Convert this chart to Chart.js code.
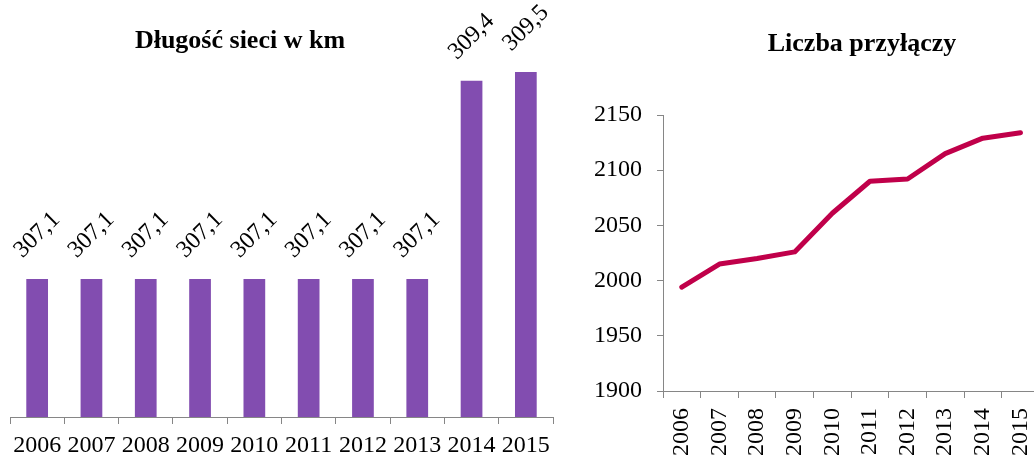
<!DOCTYPE html>
<html>
<head>
<meta charset="utf-8">
<script src="https://cdn.jsdelivr.net/npm/chart.js@4/dist/chart.umd.min.js"></script>
<style>
  html, body { margin: 0; padding: 0; background: #fff; overflow: hidden; width: 1034px; height: 456px; }
  .box { position: absolute; top: 0; }
  .title { position: absolute; width: 400px; text-align: center; font: bold 26px "Liberation Serif", serif; line-height: 30px; color: #000; white-space: nowrap; }
</style>
</head>
<body>
<div class="box" style="left:0;width:560px;height:456px"><canvas id="c1" width="560" height="456"></canvas></div>
<div class="box" style="left:560px;width:500px;height:456px"><canvas id="c2" width="500" height="456"></canvas></div>
<div class="title" style="left:40px;top:25px">Długość sieci w km</div>
<div class="title" style="left:662px;top:28px">Liczba przyłączy</div>
<script>
const years = ['2006', '2007', '2008', '2009', '2010', '2011', '2012', '2013', '2014', '2015'];
const networkLengthKm = [307.1, 307.1, 307.1, 307.1, 307.1, 307.1, 307.1, 307.1, 309.4, 309.5];
const networkLengthLabels = ['307,1', '307,1', '307,1', '307,1', '307,1', '307,1', '307,1', '307,1', '309,4', '309,5'];
const connections = [1994, 2015, 2020, 2026, 2061, 2090, 2092, 2115, 2129, 2134];
const connectionTicks = [1900, 1950, 2000, 2050, 2100, 2150];

Chart.defaults.font.family = '"Liberation Serif", serif';
Chart.defaults.color = '#000';
const axisGray = '#868686';

const barLabelPlugin = {
  id: 'barLabels',
  afterDatasetsDraw(chart) {
    const ctx = chart.ctx;
    const meta = chart.getDatasetMeta(0);
    ctx.save();
    ctx.font = '24px "Liberation Serif", serif';
    ctx.fillStyle = '#000';
    ctx.textAlign = 'center';
    ctx.textBaseline = 'middle';
    meta.data.forEach((bar, i) => {
      ctx.save();
      ctx.translate(bar.x, bar.y - 44);
      ctx.rotate(-Math.PI / 4);
      ctx.fillText(networkLengthLabels[i], 0, 0);
      ctx.restore();
    });
    ctx.restore();
  }
};

new Chart(document.getElementById('c1'), {
  type: 'bar',
  data: {
    labels: years,
    datasets: [{
      data: networkLengthKm,
      backgroundColor: '#824DB0',
      barPercentage: 0.4,
      categoryPercentage: 1
    }]
  },
  options: {
    responsive: false,
    animation: false,
    layout: { padding: { left: 10, right: 7, top: 29, bottom: 0 } },
    plugins: { legend: { display: false }, tooltip: { enabled: false }, title: { display: false } },
    scales: {
      x: {
        grid: { offset: true, drawOnChartArea: false, drawTicks: true, tickLength: 7, color: axisGray, lineWidth: 1 },
        border: { display: true, color: axisGray, width: 1 },
        ticks: { font: { size: 24 }, padding: 7, maxRotation: 0, minRotation: 0, autoSkip: false, color: '#000' },
        afterFit(s) { s.height = 39; }
      },
      y: { display: false, min: 305.5, max: 310 }
    }
  },
  plugins: [barLabelPlugin]
});

new Chart(document.getElementById('c2'), {
  type: 'line',
  data: {
    labels: years,
    datasets: [{
      data: connections,
      borderColor: '#C0004A',
      borderWidth: 5,
      pointRadius: 0,
      tension: 0,
      borderCapStyle: 'round',
      borderJoinStyle: 'round',
      fill: false
    }]
  },
  options: {
    responsive: false,
    animation: false,
    layout: { padding: { left: 0, right: 15, top: 115, bottom: 0 } },
    plugins: { legend: { display: false }, tooltip: { enabled: false }, title: { display: false } },
    scales: {
      x: {
        offset: true,
        grid: { offset: true, drawOnChartArea: false, drawTicks: true, tickLength: 7, color: axisGray, lineWidth: 1 },
        border: { display: true, color: axisGray, width: 1 },
        ticks: { font: { size: 24 }, padding: 10, minRotation: 90, maxRotation: 90, autoSkip: false, color: '#000' },
        afterFit(s) { s.height = 65; }
      },
      y: {
        min: connectionTicks[0],
        max: connectionTicks[connectionTicks.length - 1],
        afterBuildTicks(s) { s.ticks = connectionTicks.map(v => ({ value: v })); },
        grid: { drawOnChartArea: false, drawTicks: true, tickLength: 6, color: axisGray, lineWidth: 1 },
        border: { display: true, color: axisGray, width: 1 },
        ticks: { font: { size: 24 }, padding: 15, color: '#000', callback: v => String(v) },
        afterFit(s) { s.width = 103; }
      }
    }
  }
});
</script>
</body>
</html>
